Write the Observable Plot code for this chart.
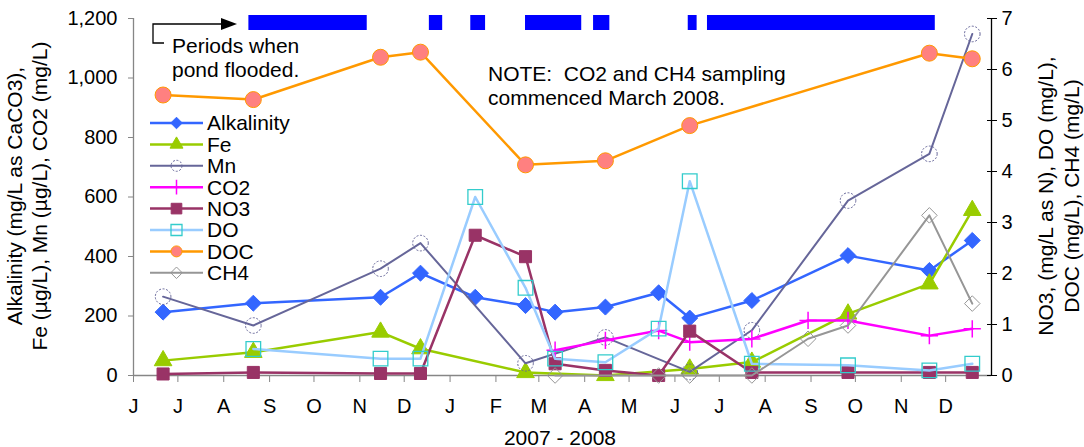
<!DOCTYPE html>
<html><head><meta charset="utf-8">
<script src="https://cdn.jsdelivr.net/npm/d3@7"></script>
<script src="https://cdn.jsdelivr.net/npm/@observablehq/plot@0.6"></script>
<style>body{margin:0;background:#fff;} svg{display:block;}</style>
</head><body><div id="chart"></div>
<script>
// ---------- data ----------
const sampleDates = ["2007-06-21","2007-08-21","2007-11-15","2007-12-12","2008-01-18","2008-02-21","2008-03-12","2008-04-15","2008-05-21","2008-06-11","2008-07-23","2008-08-30","2008-09-26","2008-11-20","2008-12-19"];
// left axis series
const alkalinity = [213,243,263,344,263,235,213,230,278,193,252,null,403,353,454];
const fe         = [50,78,146,90,null,10,null,0,null,22,45,null,207,308,555];
const mn         = [265,168,359,445,null,41,null,128,null,12,152,null,588,745,1148];
const co2        = [null,null,null,null,null,null,85,118,151,112,123,185,185,134,157];
// right axis series
const no3        = [0.03,0.06,0.04,0.04,2.75,2.33,0.23,0.1,0.0,0.87,0.06,null,0.06,0.06,0.06];
const dox        = [null,0.52,0.33,0.33,3.5,1.72,0.33,0.26,0.92,3.81,0.23,null,0.2,0.1,0.23];
const doc        = [5.50,5.41,6.24,6.34,null,4.13,null,4.21,null,4.90,null,null,null,6.32,6.21];
const ch4        = [null,null,null,null,null,null,0,null,0,0,0,0.72,0.98,3.14,1.41];

const seriesNames = ["Alkalinity","Fe","Mn","CO2","NO3","DO","DOC","CH4"];
const seriesValues = [alkalinity, fe, mn, co2, no3, dox, doc, ch4];
const seriesAxis = ["left","left","left","left","right","right","right","right"];

const floodStart = ["2007-08-18","2007-12-18","2008-01-15","2008-02-21","2008-04-07","2008-06-10","2008-06-23"];
const floodEnd   = ["2007-11-06","2007-12-27","2008-01-25","2008-03-30","2008-04-18","2008-06-16","2008-11-24"];

const monthTickDates  = ["2007-06-01","2007-07-01","2007-08-01","2007-09-01","2007-10-01","2007-11-01","2007-12-01","2008-01-01","2008-02-01","2008-03-01","2008-04-01","2008-05-01","2008-06-01","2008-07-01","2008-08-01","2008-09-01","2008-10-01","2008-11-01","2008-12-01"];
const monthTickLabels = ["J","J","A","S","O","N","D","J","F","M","A","M","J","J","A","S","O","N","D"];
const leftTicks  = [0,200,400,600,800,1000,1200];
const rightTicks = [0,1,2,3,4,5,6,7];
const xDomain = ["2007-06-01","2009-01-01"];

// ---------- styles ----------
const FONT = "'Liberation Sans', Arial, Helvetica, sans-serif";
const K = 1200 / 7; // right axis -> left axis units
const styles = {
  "Alkalinity": {line:"#3366FF", w:2.5, symbol:"diamond2", r:7.2, lr:5.2, fill:"#3366FF", stroke:"#3366FF", sw:1},
  "Fe":         {line:"#99CC00", w:2.5, symbol:"triangle2", r:8.4, lr:6.2, fill:"#99CC00", stroke:"#99CC00", sw:1},
  "Mn":         {line:"#666699", w:2,   symbol:"circle", r:7.8, lr:5.5, fill:"none", stroke:"#666699", sw:1, dash:"2,1.6"},
  "CO2":        {line:"#FF00FF", w:2.5, symbol:"plus", r:5.6, lr:4.8, fill:"none", stroke:"#FF00FF", sw:1.5},
  "NO3":        {line:"#993366", w:2.5, symbol:"square", r:6.8, lr:6.0, fill:"#993366", stroke:"#993366", sw:1},
  "DO":         {line:"#99CCFF", w:2.5, symbol:"square2", r:9.3, lr:7.0, fill:"none", stroke:"#33CCCC", sw:1.3},
  "DOC":        {line:"#FF9900", w:2.5, symbol:"circle", r:8.0, lr:5.5, fill:"#FF8080", stroke:"#FF9900", sw:1},
  "CH4":        {line:"#969696", w:2,   symbol:"diamond2", r:7.0, lr:5.2, fill:"none", stroke:"#969696", sw:1}
};

const parse = d3.utcParse("%Y-%m-%d");
const series = seriesNames.map((name, i) => {
  const f = seriesAxis[i] === "right" ? K : 1;
  const data = sampleDates.map((d, j) => ({date: parse(d), v: seriesValues[i][j]}))
    .filter(d => d.v != null).map(d => ({date: d.date, y: d.v * f}));
  return {name, data, st: styles[name]};
});

const floods = floodStart.map((s, i) => ({x1: parse(s), x2: parse(floodEnd[i])}));
const monthTicks = monthTickDates.map(parse);

const marks = [
  Plot.rect(floods, {x1:"x1", x2:"x2", fill:"#0000FF", insetTop:-3, insetBottom:345}),
  Plot.ruleY([0], {stroke:"#868686", strokeWidth:1.3}),
  Plot.ruleX([parse(xDomain[0])], {stroke:"#868686", strokeWidth:1.3}),
  Plot.ruleX([parse(xDomain[1])], {stroke:"#000", strokeWidth:1.3}),
  Plot.axisX(monthTicks, {tickFormat:(d, i) => monthTickLabels[i], tickSize:7, tickPadding:16, stroke:"#868686", fill:"#000", fontSize:20, label:null}),
  Plot.axisY(leftTicks, {anchor:"left", tickFormat:d3.format(","), tickSize:5, tickPadding:11, stroke:"#868686", fill:"#000", fontSize:20, label:null}),
  Plot.axisY(rightTicks.map(k => k * K), {anchor:"right", tickSize:10, dx:-5, stroke:"#000", fill:"none", label:null}),
  Plot.axisY(rightTicks.map(k => k * K), {anchor:"right", tickSize:0, tickPadding:10, tickFormat:d => String(Math.round(d / K)), fill:"#000", fontSize:20, label:null})
];
for (const s of series) {
  marks.push(Plot.line(s.data, {x:"date", y:"y", stroke:s.st.line, strokeWidth:s.st.w, strokeLinejoin:"round"}));
  marks.push(Plot.dot(s.data, {x:"date", y:"y", symbol:s.st.symbol, r:s.st.r, fill:s.st.fill, stroke:s.st.stroke, strokeWidth:s.st.sw, strokeDasharray:s.st.dash}));
}

const chart = Plot.plot({
  width:1084, height:447,
  marginLeft:133, marginRight:93, marginTop:18, marginBottom:72,
  style:{fontFamily:FONT, fontSize:"20px", background:"#fff", overflow:"visible"},
  x:{type:"utc", domain:xDomain.map(parse)},
  y:{domain:[0,1200]},
  marks
});
document.getElementById("chart").appendChild(chart);

// ---------- annotations & legend ----------
const svg = d3.select(chart);
const symMap = {diamond2:d3.symbolDiamond2, triangle2:d3.symbolTriangle2, circle:d3.symbolCircle, plus:d3.symbolPlus, square:d3.symbolSquare, square2:d3.symbolSquare2};

const lg = svg.append("g").attr("font-family", FONT).attr("font-size", 21).attr("fill", "#000").attr("text-anchor","start");
series.forEach((s, i) => {
  const y = 123 + i * 21.4;
  lg.append("line").attr("x1",150).attr("x2",203).attr("y1",y).attr("y2",y)
    .attr("stroke", s.st.line).attr("stroke-width", s.st.w);
  lg.append("path").attr("transform", `translate(176.5,${y})`)
    .attr("d", d3.symbol(symMap[s.st.symbol], Math.PI * s.st.lr * s.st.lr)())
    .attr("fill", s.st.fill).attr("stroke", s.st.stroke).attr("stroke-width", s.st.sw)
    .attr("stroke-dasharray", s.st.dash || null);
  lg.append("text").attr("x", 207).attr("y", y).attr("dy", "0.35em").attr("text-anchor","start").text(s.name);
});

const ann = svg.append("g").attr("font-family", FONT).attr("font-size", 21).attr("fill", "#000").attr("text-anchor","start");
ann.append("path").attr("d", "M164,43H153V24H223").attr("fill","none").attr("stroke","#000").attr("stroke-width",1.3);
ann.append("path").attr("d", "M221,18L237,24L221,30Z").attr("fill","#000");
ann.append("text").attr("x",172).attr("y",53).attr("text-anchor","start").text("Periods when");
ann.append("text").attr("x",172).attr("y",77).attr("text-anchor","start").text("pond flooded.");
ann.append("text").attr("x",488).attr("y",81).attr("text-anchor","start").attr("xml:space","preserve").text("NOTE:  CO2 and CH4 sampling");
ann.append("text").attr("x",488).attr("y",105).attr("text-anchor","start").text("commenced March 2008.");

// axis titles
const yMid = 196;
const t = svg.append("g").attr("font-family", FONT).attr("font-size", 21).attr("fill", "#000").attr("text-anchor","middle");
[["Alkalinity (mg/L as CaCO3),", 15], ["Fe (µg/L), Mn (µg/L), CO2 (mg/L)", 40]].forEach(([s, x]) =>
  t.append("text").attr("transform", `translate(${x},${yMid}) rotate(-90)`).attr("dy","0.35em").text(s));
[["NO3, (mg/L as N), DO (mg/L),", 1046], ["DOC (mg/L), CH4 (mg/L)", 1072]].forEach(([s, x]) =>
  t.append("text").attr("transform", `translate(${x},${yMid}) rotate(-90)`).attr("dy","0.35em").text(s));
t.append("text").attr("x", 560).attr("y", 445).text("2007 - 2008");
</script>
</body></html>
